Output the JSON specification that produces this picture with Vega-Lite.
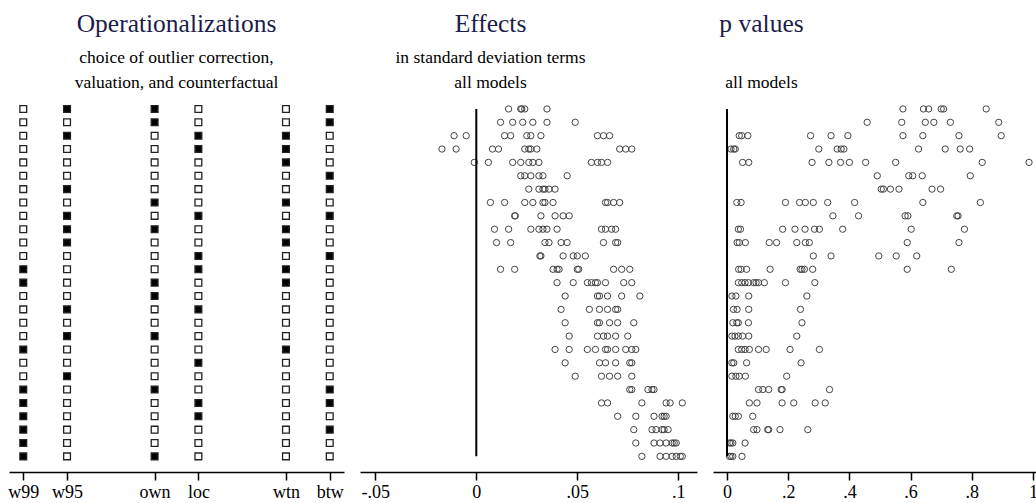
{
  "$schema": "https://vega.github.io/schema/vega-lite/v6.json",
  "background": "white",
  "padding": {"left": 7, "top": 12, "right": 0, "bottom": 0},
  "bounds": "flush",
  "spacing": 16,
  "config": {
    "view": {"stroke": null},
    "font": "Liberation Serif",
    "title": {
      "font": "Liberation Serif",
      "fontSize": 25.5,
      "fontWeight": "normal",
      "color": "#1c1c4a",
      "subtitleFont": "Liberation Serif",
      "subtitleFontSize": 17.5,
      "subtitleColor": "black",
      "subtitleLineHeight": 25,
      "subtitlePadding": 11,
      "offset": 9,
      "anchor": "middle",
      "frame": "group"
    },
    "axis": {
      "grid": false,
      "domainColor": "black",
      "domainWidth": 1.5,
      "tickColor": "black",
      "tickWidth": 1.5,
      "tickSize": 8,
      "labelFont": "Liberation Serif",
      "labelFontSize": 18,
      "labelColor": "black",
      "labelPadding": 3,
      "labelFlush": false,
      "labelOverlap": false
    }
  },
  "hconcat": [
    {
      "width": 335,
      "height": 372,
      "title": {"text": "Operationalizations", "subtitle": ["choice of outlier correction,", "valuation, and counterfactual"]},
      "data": {"values": [
        {"m": 1, "w99": 0, "w95": 1, "own": 1, "loc": 0, "wtn": 0, "btw": 1},
        {"m": 2, "w99": 0, "w95": 0, "own": 1, "loc": 0, "wtn": 0, "btw": 1},
        {"m": 3, "w99": 0, "w95": 1, "own": 0, "loc": 1, "wtn": 1, "btw": 0},
        {"m": 4, "w99": 0, "w95": 0, "own": 0, "loc": 1, "wtn": 1, "btw": 0},
        {"m": 5, "w99": 0, "w95": 0, "own": 0, "loc": 0, "wtn": 1, "btw": 0},
        {"m": 6, "w99": 0, "w95": 0, "own": 0, "loc": 0, "wtn": 0, "btw": 1},
        {"m": 7, "w99": 0, "w95": 1, "own": 0, "loc": 0, "wtn": 0, "btw": 1},
        {"m": 8, "w99": 0, "w95": 0, "own": 1, "loc": 0, "wtn": 1, "btw": 0},
        {"m": 9, "w99": 0, "w95": 1, "own": 0, "loc": 1, "wtn": 0, "btw": 1},
        {"m": 10, "w99": 0, "w95": 1, "own": 1, "loc": 0, "wtn": 1, "btw": 0},
        {"m": 11, "w99": 0, "w95": 1, "own": 0, "loc": 0, "wtn": 1, "btw": 0},
        {"m": 12, "w99": 0, "w95": 0, "own": 0, "loc": 1, "wtn": 0, "btw": 1},
        {"m": 13, "w99": 1, "w95": 0, "own": 0, "loc": 1, "wtn": 1, "btw": 0},
        {"m": 14, "w99": 1, "w95": 0, "own": 1, "loc": 0, "wtn": 1, "btw": 0},
        {"m": 15, "w99": 0, "w95": 0, "own": 1, "loc": 0, "wtn": 0, "btw": 0},
        {"m": 16, "w99": 0, "w95": 1, "own": 0, "loc": 1, "wtn": 0, "btw": 0},
        {"m": 17, "w99": 0, "w95": 0, "own": 0, "loc": 0, "wtn": 0, "btw": 0},
        {"m": 18, "w99": 0, "w95": 1, "own": 1, "loc": 0, "wtn": 0, "btw": 0},
        {"m": 19, "w99": 1, "w95": 0, "own": 0, "loc": 0, "wtn": 1, "btw": 0},
        {"m": 20, "w99": 0, "w95": 0, "own": 0, "loc": 1, "wtn": 0, "btw": 0},
        {"m": 21, "w99": 0, "w95": 1, "own": 0, "loc": 0, "wtn": 0, "btw": 0},
        {"m": 22, "w99": 1, "w95": 0, "own": 1, "loc": 0, "wtn": 0, "btw": 1},
        {"m": 23, "w99": 1, "w95": 0, "own": 0, "loc": 1, "wtn": 0, "btw": 1},
        {"m": 24, "w99": 1, "w95": 0, "own": 0, "loc": 1, "wtn": 0, "btw": 0},
        {"m": 25, "w99": 1, "w95": 0, "own": 0, "loc": 0, "wtn": 0, "btw": 1},
        {"m": 26, "w99": 1, "w95": 0, "own": 0, "loc": 0, "wtn": 0, "btw": 0},
        {"m": 27, "w99": 1, "w95": 0, "own": 1, "loc": 0, "wtn": 0, "btw": 0}
      ]},
      "transform": [{"fold": ["w99", "w95", "own", "loc", "wtn", "btw"], "as": ["var", "on"]}],
      "mark": {"type": "point", "shape": "square", "size": 46, "filled": true, "stroke": "#222", "strokeWidth": 1.3, "opacity": 1},
      "encoding": {
        "x": {"field": "var", "type": "nominal",
          "scale": {"type": "point", "domain": ["w99", "w95", "g1", "own", "loc", "g2", "wtn", "btw"], "padding": 0.326},
          "axis": {"values": ["w99", "w95", "own", "loc", "wtn", "btw"], "title": null, "labelAngle": 0}},
        "y": {"field": "m", "type": "quantitative", "scale": {"domain": [0.33, 28.17], "reverse": true, "nice": false, "zero": false}, "axis": null},
        "fill": {"field": "on", "type": "nominal", "scale": {"domain": [0, 1], "range": ["white", "black"]}, "legend": null}
      }
    },
    {
      "width": 337,
      "height": 372,
      "title": {"text": "Effects", "subtitle": ["in standard deviation terms", "all models"], "dx": -38},
      "layer": [
        {
          "data": {"values": [
            {"m": 1, "e": [0.016, 0.022, 0.0225, 0.024, 0.035]},
            {"m": 2, "e": [0.012, 0.018, 0.023, 0.028, 0.035, 0.049]},
            {"m": 3, "e": [-0.011, -0.005, 0.014, 0.017, 0.025, 0.027, 0.032, 0.060, 0.063, 0.066]},
            {"m": 4, "e": [-0.017, -0.010, 0.008, 0.011, 0.024, 0.026, 0.027, 0.030, 0.071, 0.074, 0.077]},
            {"m": 5, "e": [-0.001, 0.006, 0.018, 0.022, 0.026, 0.028, 0.031, 0.057, 0.060, 0.062, 0.065]},
            {"m": 6, "e": [0.022, 0.024, 0.027, 0.031, 0.033, 0.045]},
            {"m": 7, "e": [0.026, 0.031, 0.033, 0.034, 0.036, 0.039]},
            {"m": 8, "e": [0.007, 0.014, 0.024, 0.028, 0.033, 0.034, 0.038, 0.064, 0.065, 0.068, 0.071]},
            {"m": 9, "e": [0.019, 0.0193, 0.032, 0.039, 0.043, 0.046]},
            {"m": 10, "e": [0.009, 0.016, 0.027, 0.031, 0.033, 0.035, 0.040, 0.062, 0.064, 0.067, 0.069]},
            {"m": 11, "e": [0.010, 0.017, 0.034, 0.036, 0.042, 0.045, 0.063, 0.069, 0.070]},
            {"m": 12, "e": [0.0315, 0.032, 0.043, 0.048, 0.050, 0.054]},
            {"m": 13, "e": [0.012, 0.019, 0.038, 0.040, 0.041, 0.050, 0.0507, 0.068, 0.072, 0.076]},
            {"m": 14, "e": [0.040, 0.048, 0.055, 0.057, 0.059, 0.060, 0.064, 0.073, 0.077]},
            {"m": 15, "e": [0.044, 0.060, 0.061, 0.065, 0.072, 0.081]},
            {"m": 16, "e": [0.042, 0.056, 0.061, 0.065, 0.069, 0.070]},
            {"m": 17, "e": [0.044, 0.060, 0.061, 0.066, 0.070, 0.078]},
            {"m": 18, "e": [0.046, 0.060, 0.063, 0.065, 0.069, 0.075]},
            {"m": 19, "e": [0.039, 0.046, 0.055, 0.059, 0.064, 0.065, 0.069, 0.074, 0.077, 0.079]},
            {"m": 20, "e": [0.044, 0.061, 0.064, 0.069, 0.076, 0.077]},
            {"m": 21, "e": [0.049, 0.062, 0.066, 0.070, 0.077]},
            {"m": 22, "e": [0.076, 0.077, 0.085, 0.087, 0.088]},
            {"m": 23, "e": [0.062, 0.065, 0.082, 0.094, 0.096, 0.102]},
            {"m": 24, "e": [0.070, 0.079, 0.088, 0.092, 0.093, 0.094]},
            {"m": 25, "e": [0.078, 0.087, 0.089, 0.092, 0.093, 0.095]},
            {"m": 26, "e": [0.079, 0.088, 0.091, 0.094, 0.097, 0.098, 0.099]},
            {"m": 27, "e": [0.082, 0.091, 0.094, 0.097, 0.099, 0.101, 0.102]}
          ]},
          "transform": [{"flatten": ["e"]}],
          "mark": {"type": "point", "shape": "circle", "size": 40, "filled": false, "stroke": "#444", "strokeWidth": 1, "opacity": 1},
          "encoding": {
            "x": {"field": "e", "type": "quantitative",
              "scale": {"domain": [-0.0576, 0.1093], "nice": false, "zero": false},
              "axis": {"values": [-0.05, 0, 0.05, 0.1], "title": null,
                "labelExpr": "replace(replace(format(datum.value, '~g'), '0.', '.'), '\u2212', '-')"}},
            "y": {"field": "m", "type": "quantitative", "scale": {"domain": [0.33, 28.17], "reverse": true, "nice": false, "zero": false}, "axis": null}
          }
        },
        {
          "data": {"values": [{"at": 0, "from": 1, "to": 27}]},
          "mark": {"type": "rule", "color": "black", "strokeWidth": 2},
          "encoding": {
            "x": {"field": "at", "type": "quantitative"},
            "y": {"field": "from", "type": "quantitative"},
            "y2": {"field": "to"}
          }
        }
      ]
    },
    {
      "width": 329,
      "height": 372,
      "title": {"text": "p values", "subtitle": ["", "all models"], "dx": -116},
      "layer": [
        {
          "data": {"values": [
            {"m": 1, "p": [0.575, 0.642, 0.659, 0.700, 0.708, 0.847]},
            {"m": 2, "p": [0.458, 0.571, 0.648, 0.676, 0.730, 0.888]},
            {"m": 3, "p": [0.040, 0.048, 0.068, 0.273, 0.340, 0.395, 0.575, 0.640, 0.758, 0.896]},
            {"m": 4, "p": [0.013, 0.022, 0.027, 0.300, 0.360, 0.373, 0.382, 0.626, 0.713, 0.762, 0.793]},
            {"m": 5, "p": [0.051, 0.071, 0.278, 0.333, 0.371, 0.400, 0.453, 0.551, 0.834, 0.987]},
            {"m": 6, "p": [0.491, 0.594, 0.607, 0.638, 0.795]},
            {"m": 7, "p": [0.504, 0.511, 0.534, 0.562, 0.670, 0.698]},
            {"m": 8, "p": [0.032, 0.046, 0.191, 0.237, 0.256, 0.282, 0.329, 0.417, 0.640, 0.828]},
            {"m": 9, "p": [0.346, 0.430, 0.582, 0.591, 0.751, 0.755]},
            {"m": 10, "p": [0.037, 0.044, 0.182, 0.222, 0.255, 0.286, 0.302, 0.378, 0.602, 0.776]},
            {"m": 11, "p": [0.033, 0.040, 0.060, 0.138, 0.162, 0.228, 0.256, 0.269, 0.589, 0.758]},
            {"m": 12, "p": [0.282, 0.340, 0.496, 0.553, 0.620]},
            {"m": 13, "p": [0.038, 0.046, 0.064, 0.141, 0.239, 0.245, 0.253, 0.280, 0.589, 0.733]},
            {"m": 14, "p": [0.037, 0.048, 0.059, 0.070, 0.087, 0.095, 0.103, 0.122, 0.191, 0.287]},
            {"m": 15, "p": [0.016, 0.029, 0.071, 0.261]},
            {"m": 16, "p": [0.021, 0.033, 0.071, 0.240]},
            {"m": 17, "p": [0.019, 0.032, 0.037, 0.070, 0.245]},
            {"m": 18, "p": [0.016, 0.026, 0.037, 0.051, 0.071, 0.228]},
            {"m": 19, "p": [0.037, 0.048, 0.059, 0.073, 0.103, 0.128, 0.206, 0.302]},
            {"m": 20, "p": [0.016, 0.022, 0.064, 0.242]},
            {"m": 21, "p": [0.016, 0.029, 0.040, 0.060, 0.195]},
            {"m": 22, "p": [0.103, 0.117, 0.136, 0.177, 0.180, 0.335]},
            {"m": 23, "p": [0.073, 0.098, 0.180, 0.218, 0.288, 0.321]},
            {"m": 24, "p": [0.019, 0.027, 0.037, 0.084]},
            {"m": 25, "p": [0.087, 0.098, 0.133, 0.136, 0.173, 0.264]},
            {"m": 26, "p": [0.008, 0.013, 0.019, 0.059]},
            {"m": 27, "p": [0.008, 0.013, 0.019, 0.049]}
          ]},
          "transform": [{"flatten": ["p"]}],
          "mark": {"type": "point", "shape": "circle", "size": 40, "filled": false, "stroke": "#444", "strokeWidth": 1, "opacity": 1},
          "encoding": {
            "x": {"field": "p", "type": "quantitative",
              "scale": {"domain": [-0.0458, 1.0294], "nice": false, "zero": false},
              "axis": {"values": [0, 0.2, 0.4, 0.6, 0.8, 1], "title": null,
                "labelExpr": "replace(replace(format(datum.value, '~g'), '0.', '.'), '\u2212', '-')"}},
            "y": {"field": "m", "type": "quantitative", "scale": {"domain": [0.33, 28.17], "reverse": true, "nice": false, "zero": false}, "axis": null}
          }
        },
        {
          "data": {"values": [{"at": 0, "from": 1, "to": 27}]},
          "mark": {"type": "rule", "color": "black", "strokeWidth": 2},
          "encoding": {
            "x": {"field": "at", "type": "quantitative"},
            "y": {"field": "from", "type": "quantitative"},
            "y2": {"field": "to"}
          }
        }
      ]
    }
  ]
}
